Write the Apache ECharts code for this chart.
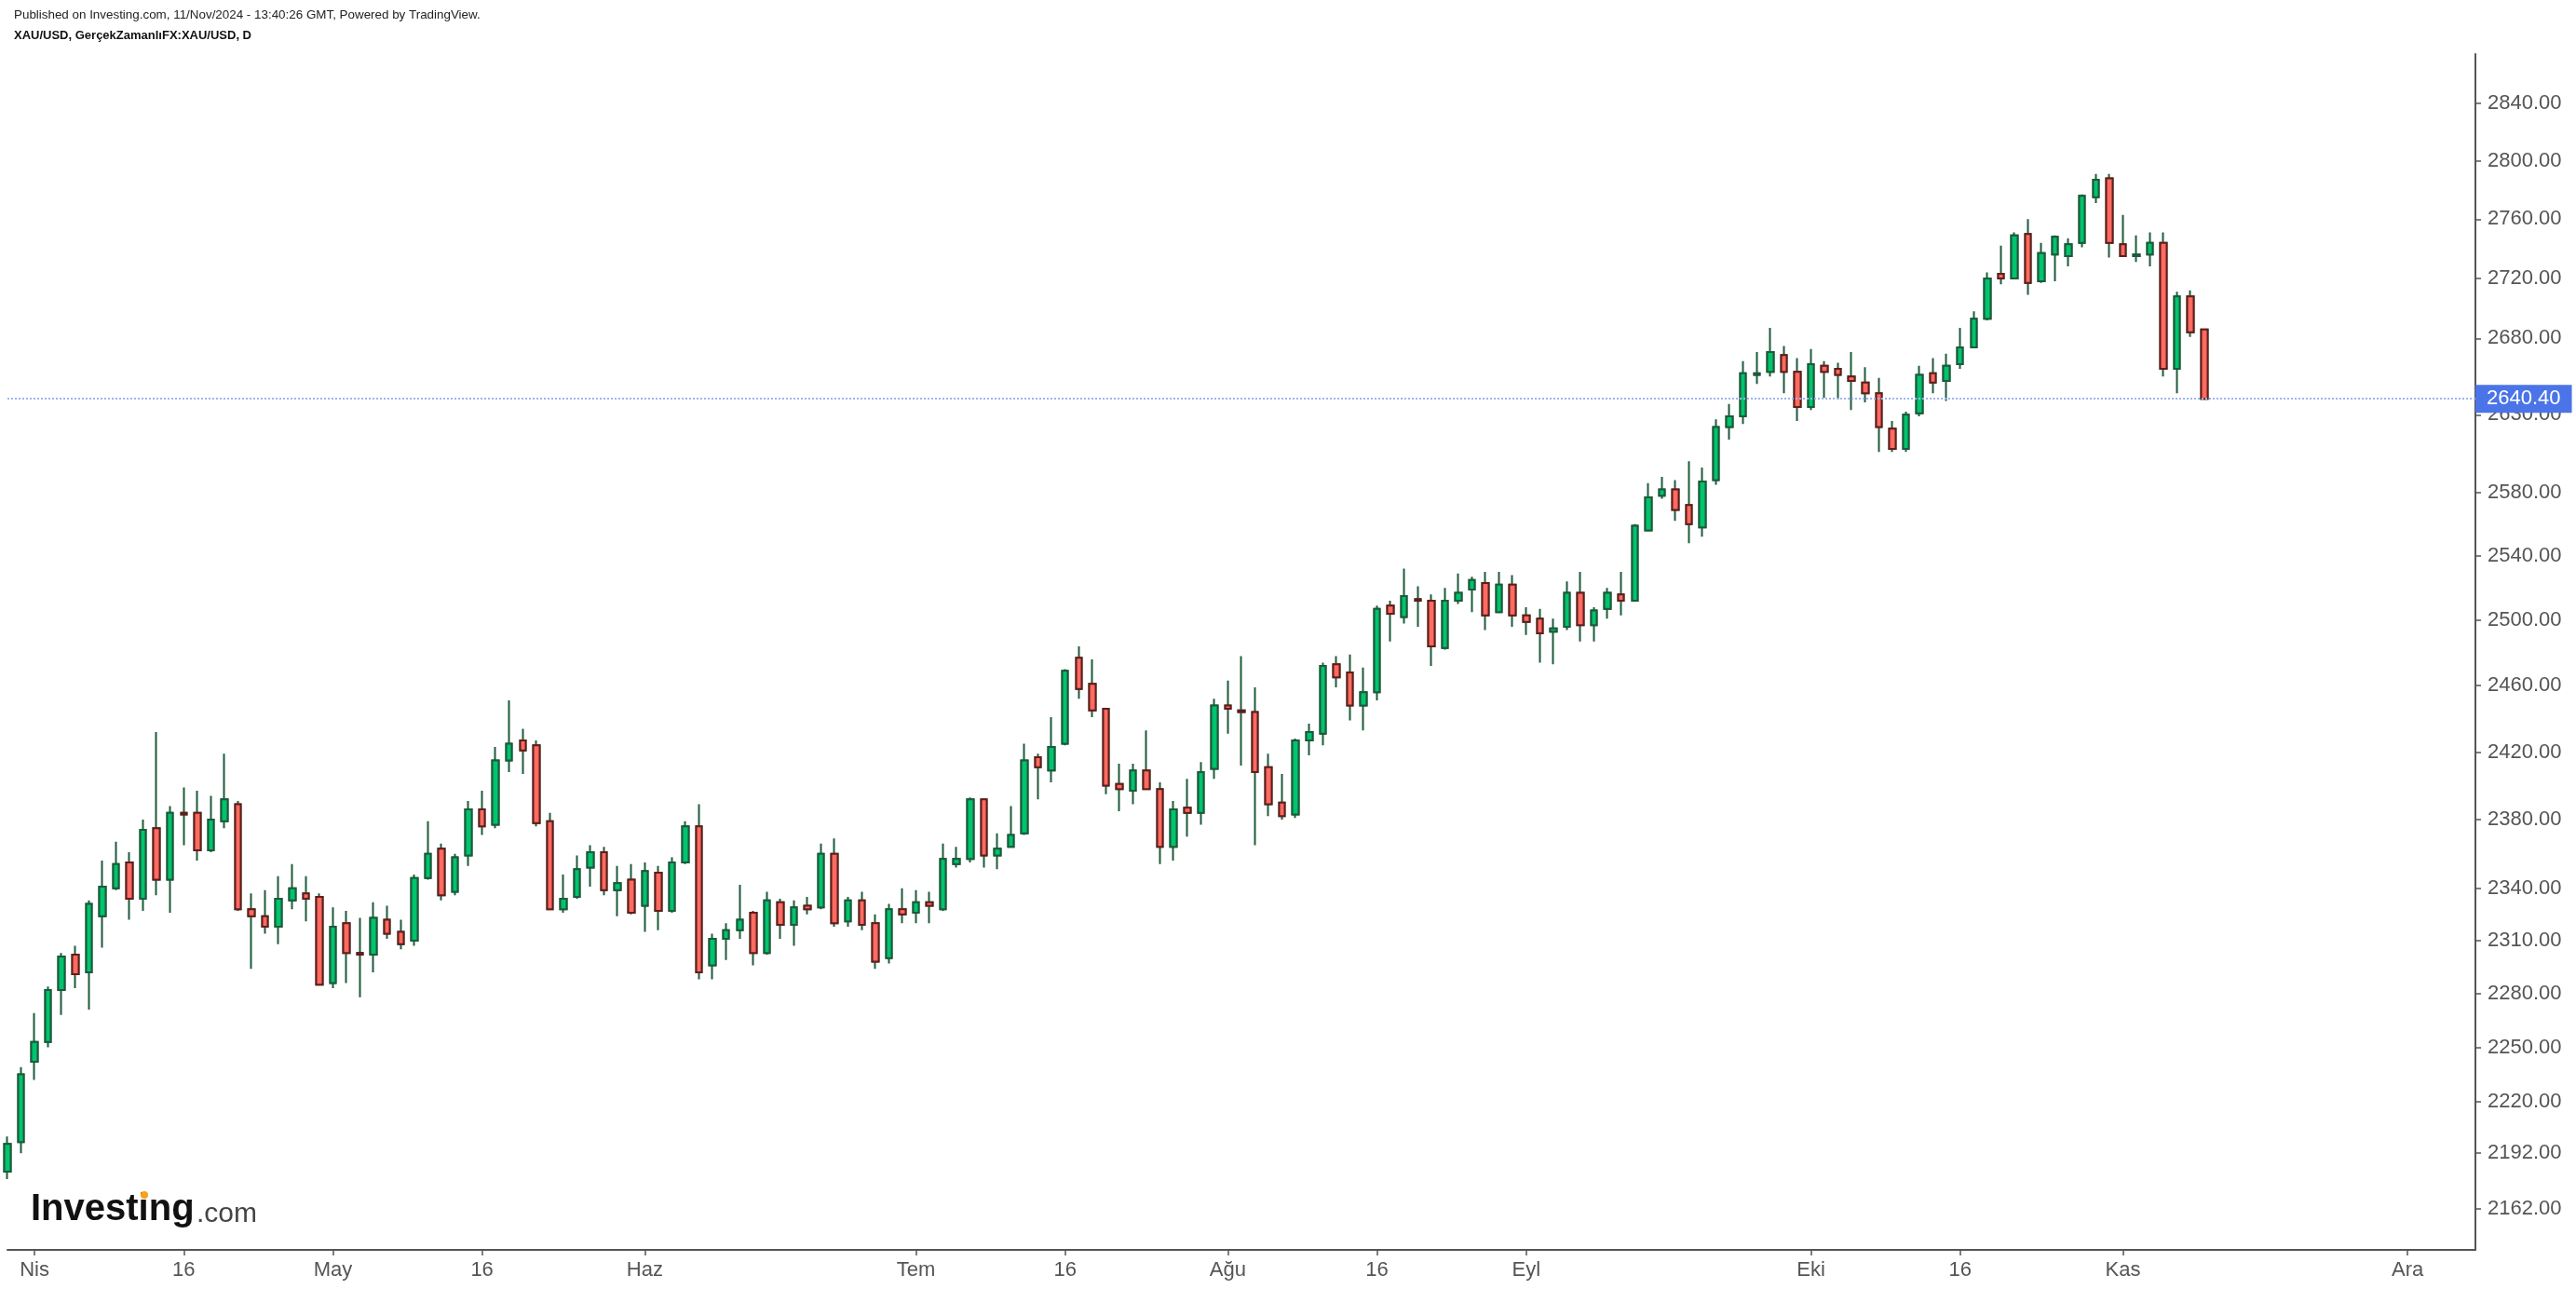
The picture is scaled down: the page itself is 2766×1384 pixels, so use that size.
<!DOCTYPE html>
<html><head><meta charset="utf-8">
<script src="https://cdn.jsdelivr.net/npm/echarts@6/dist/echarts.min.js"></script>
<style>html,body{margin:0;padding:0;background:#fff}#c{width:2766px;height:1384px}</style>
</head><body><div id="c"></div>
<script>
// ---- data (daily XAU/USD candles, 27 Mar – 11 Nov 2024) ----
const opens = [2182,2198,2242,2253,2282,2302,2292,2324,2340,2355,2334,2375,2345,2384,2384,2362,2379,2389,2328,2324,
2318,2333,2337,2335,2286,2320,2303,2302,2322,2315,2310,2346,2363,2338,2359,2386,2377,2415,2427,2424,
2379,2328,2335,2352,2361,2339,2345,2330,2349,2327,2355,2376,2296,2311,2316,2326,2303,2332,2319,2330,
2329,2360,2321,2333,2320,2300,2328,2326,2332,2328,2354,2357,2392,2359,2364,2372,2417,2409,2425,2477,
2461,2446,2401,2397,2409,2398,2364,2387,2384,2410,2448,2445,2444,2411,2390,2383,2427,2431,2473,2468,
2448,2456,2509,2502,2513,2512,2483,2512,2519,2523,2505,2522,2503,2501,2493,2496,2517,2497,2507,2516,
2512,2556,2578,2582,2572,2558,2588,2622,2629,2656,2658,2669,2658,2635,2662,2660,2655,2651,2644,2621,
2608,2631,2657,2652,2663,2674,2693,2723,2720,2750,2718,2736,2735,2744,2775,2788,2743,2735,2736,2744,
2660,2708,2686];
const highs = [2201,2239,2269,2284,2303,2307,2333,2356,2367,2361,2380,2432,2388,2399,2397,2394,2419,2391,2337,2339,
2347,2354,2347,2337,2329,2327,2323,2332,2330,2322,2348,2379,2366,2360,2391,2397,2423,2451,2434,2427,
2384,2348,2359,2365,2364,2353,2354,2355,2353,2358,2379,2389,2314,2320,2342,2327,2338,2334,2333,2335,
2366,2369,2335,2338,2325,2331,2340,2339,2338,2366,2364,2393,2392,2372,2388,2425,2419,2441,2470,2484,
2476,2446,2413,2413,2433,2402,2391,2404,2414,2452,2463,2478,2459,2419,2407,2428,2437,2474,2478,2479,
2471,2509,2512,2532,2521,2516,2520,2529,2527,2530,2530,2528,2508,2507,2501,2524,2530,2508,2520,2530,
2560,2586,2590,2588,2600,2596,2627,2637,2665,2671,2687,2675,2667,2673,2665,2664,2671,2661,2654,2626,
2632,2662,2667,2670,2687,2698,2724,2742,2751,2760,2744,2749,2747,2777,2791,2791,2763,2749,2751,2751,
2711,2712,2686];
const lows = [2178,2192,2232,2250,2268,2283,2271,2306,2339,2322,2327,2336,2326,2365,2356,2361,2375,2327,2294,2314,
2308,2328,2321,2285,2283,2286,2278,2292,2311,2305,2307,2345,2333,2336,2353,2371,2375,2408,2407,2376,
2328,2326,2334,2341,2336,2324,2325,2315,2316,2326,2354,2288,2288,2299,2311,2296,2302,2311,2307,2325,
2328,2318,2318,2316,2294,2297,2320,2320,2320,2327,2352,2355,2352,2351,2364,2371,2392,2402,2424,2452,
2441,2395,2385,2389,2398,2354,2356,2370,2377,2404,2431,2412,2365,2382,2380,2381,2418,2424,2459,2439,
2433,2451,2487,2498,2496,2472,2482,2510,2505,2494,2505,2496,2491,2474,2473,2494,2487,2487,2501,2503,
2512,2556,2576,2562,2548,2552,2585,2614,2624,2650,2655,2644,2626,2633,2641,2640,2633,2638,2606,2606,
2606,2629,2644,2639,2660,2674,2692,2716,2720,2709,2717,2718,2728,2741,2771,2734,2735,2731,2728,2655,
2644,2681,2640];
const closes = [2197,2235,2253,2282,2301,2291,2331,2341,2354,2334,2374,2345,2384,2383,2362,2380,2392,2328,2324,2318,
2334,2340,2334,2285,2318,2303,2302,2323,2314,2308,2346,2360,2336,2358,2386,2376,2415,2425,2421,2378,
2328,2334,2351,2361,2339,2343,2326,2350,2327,2355,2376,2292,2311,2316,2322,2303,2333,2319,2329,2328,
2360,2320,2333,2319,2298,2328,2325,2332,2330,2357,2357,2392,2359,2363,2371,2415,2411,2423,2469,2458,
2445,2400,2398,2409,2398,2364,2386,2384,2408,2448,2446,2444,2408,2389,2382,2427,2432,2472,2465,2448,
2456,2507,2504,2515,2512,2484,2512,2517,2525,2503,2522,2503,2499,2492,2495,2517,2497,2506,2517,2512,
2559,2577,2582,2569,2560,2587,2622,2629,2657,2657,2671,2658,2635,2663,2658,2656,2652,2644,2622,2608,
2630,2656,2651,2662,2674,2693,2720,2720,2749,2717,2737,2748,2743,2776,2787,2744,2735,2736,2744,2660,
2708,2684,2640.4];
const lastPrice = 2640.40;

// x axis: trading days shown on the chart (weekdays, Good Friday closed), running into December
const firstDay = '2024-03-27';
const lastDay = '2024-12-09';
const closedDays = ['2024-03-29'];
const xTickDates  = ['2024-04-01','2024-04-16','2024-05-01','2024-05-16','2024-06-03','2024-07-01','2024-07-16',
                     '2024-08-01','2024-08-16','2024-09-02','2024-10-01','2024-10-16','2024-11-01','2024-12-02'];
const xTickLabels = ['Nis','16','May','16','Haz','Tem','16','Ağu','16','Eyl','Eki','16','Kas','Ara'];
// y axis (logarithmic price scale) tick labels
const yTicks = [2162,2192,2220,2250,2280,2310,2340,2380,2420,2460,2500,2540,2580,2630,2680,2720,2760,2800,2840];

// ---- build what the library needs ----
function ymd(d){ return d.toISOString().slice(0,10); }
const categories = [];
for (let d = new Date(firstDay + 'T00:00:00Z'); ymd(d) <= lastDay; d.setUTCDate(d.getUTCDate() + 1)) {
  const wd = d.getUTCDay();
  if (wd === 0 || wd === 6) continue;
  if (closedDays.indexOf(ymd(d)) >= 0) continue;
  categories.push(ymd(d));
}
const labelOf = {};
xTickDates.forEach((d, k) => { labelOf[d] = xTickLabels[k]; });
const tickIdx = new Set(xTickDates.map(d => categories.indexOf(d)));

const wickData = opens.map((o, i) => [o, closes[i], lows[i], highs[i]]);
const bodyData = opens.map((o, i) => [o, closes[i], Math.min(o, closes[i]), Math.max(o, closes[i])]);

const GREEN = '#00c46e', GREEN_EDGE = '#1d5a3b', RED = '#ff6b61', RED_EDGE = '#631c1b';
const FONT = "'Liberation Sans', Arial, sans-serif";

const chart = echarts.init(document.getElementById('c'), null, {renderer: 'canvas'});
chart.setOption({
  animation: false,
  backgroundColor: '#ffffff',
  grid: {left: 8, right: 108, top: 58, bottom: 42, containLabel: false},
  xAxis: {
    type: 'category', data: categories, boundaryGap: false,
    axisLine: {show: true, onZero: false, lineStyle: {color: '#555555', width: 2}},
    axisTick: {show: true, interval: (i) => tickIdx.has(i), length: 6, lineStyle: {color: '#555555', width: 1.5}},
    axisLabel: {interval: (i) => tickIdx.has(i), formatter: (v) => labelOf[v] || '', color: '#555555',
                fontSize: 22, fontFamily: FONT, margin: 11},
    splitLine: {show: false}
  },
  yAxis: {
    type: 'log', logBase: 10, position: 'right', min: 2140.3, max: 2874.8,
    axisLine: {show: true, onZero: false, lineStyle: {color: '#555555', width: 2}},
    axisTick: {show: true, customValues: yTicks, length: 6, lineStyle: {color: '#555555', width: 1.5}},
    axisLabel: {show: true, customValues: yTicks, formatter: (v) => Number(v).toFixed(2), color: '#555555',
                fontSize: 22, fontFamily: FONT, margin: 13},
    splitLine: {show: false}
  },
  series: [
    {
      name: 'wick', type: 'candlestick', data: wickData, barWidth: 7, z: 2, silent: true,
      itemStyle: {color: GREEN_EDGE, color0: GREEN_EDGE, borderColor: GREEN_EDGE, borderColor0: GREEN_EDGE,
                  borderColorDoji: GREEN_EDGE, borderWidth: 2}
    },
    {
      name: 'XAU/USD', type: 'candlestick', data: bodyData, barWidth: 7, z: 3, silent: true,
      itemStyle: {color: GREEN, color0: RED, borderColor: GREEN_EDGE, borderColor0: RED_EDGE,
                  borderColorDoji: RED_EDGE, borderWidth: 2},
      markLine: {
        silent: true, symbol: ['none', 'none'], animation: false,
        lineStyle: {color: '#9fb4f2', width: 2, type: [2, 2]},
        label: {show: true, position: 'end', distance: 0, formatter: () => lastPrice.toFixed(2),
                color: '#ffffff', backgroundColor: '#4a74e8', padding: [4, 12, 4, 12],
                fontSize: 22, lineHeight: 22, fontFamily: FONT},
        data: [{yAxis: lastPrice}]
      }
    }
  ],
  graphic: [
    {type: 'text', left: 15, top: 10, z: 10, style: {text: 'Published on Investing.com, 11/Nov/2024 - 13:40:26 GMT, Powered by TradingView.',
      fill: '#222222', font: "13.4px 'Liberation Sans Narrow', 'Liberation Sans', Arial, sans-serif"}},
    {type: 'text', left: 15, top: 32, z: 10, style: {text: 'XAU/USD, GerçekZamanlıFX:XAU/USD, D',
      fill: '#111111', font: "bold 13px 'Liberation Sans Narrow', 'Liberation Sans', Arial, sans-serif"}},
    {type: 'text', left: 33, top: 1279, z: 10, style: {text: 'Investing', fill: '#111111',
      font: "bold 40px 'Liberation Sans', Arial, sans-serif"}},
    {type: 'text', left: 211, top: 1289, z: 10, style: {text: '.com', fill: '#444444',
      font: "30px 'Liberation Sans', Arial, sans-serif"}},
    {type: 'circle', z: 11, shape: {cx: 155, cy: 1283, r: 4}, style: {fill: '#f7a21b'}}
  ]
});
</script></body></html>
